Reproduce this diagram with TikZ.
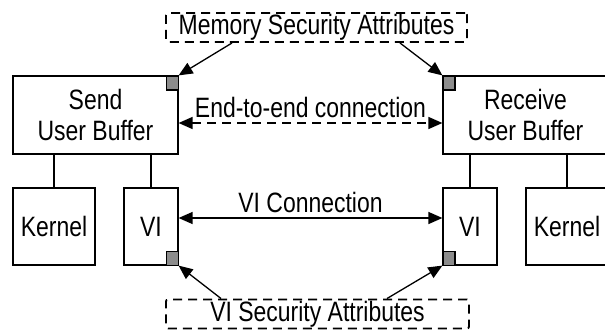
\documentclass[tikz,border=0pt]{standalone}
\usepackage{fontspec}
\setmainfont{Liberation Sans}[FakeStretch=0.82]
\usetikzlibrary{arrows.meta,positioning}

\begin{document}
\begin{tikzpicture}[x=1pt,y=-1pt,on grid,
    font=\fontsize{28}{31}\selectfont,
    box/.style={draw,line width=1.2pt,inner sep=0pt,align=center},
    tag/.style={draw,line width=1.1pt,fill=black!45,minimum width=12pt,minimum height=14pt,inner sep=0pt},
    attr/.style={draw,line width=1.9pt,dash pattern=on 9pt off 6pt,rounded corners=2pt,minimum height=29pt,inner sep=0pt},
    tip/.style={-{Triangle[length=14pt,width=12pt]},line width=1.3pt},
    tips/.style={{Triangle[length=14pt,width=12pt]}-{Triangle[length=14pt,width=12pt]},line width=1.3pt}]
  \useasboundingbox (0,0) rectangle (605,332);
  \clip (0,0) rectangle (605,332);
  % user buffers
  \node[box,minimum width=165pt,minimum height=78pt] (buf_s) at (95.5,115) {Send\\User Buffer};
  \node[box,minimum width=165pt,minimum height=78pt] (buf_r) [right=430pt of buf_s] {Receive\\User Buffer};
  % kernel and VI boxes
  \node[box,minimum width=82pt,minimum height=77pt] (kern_s) at (54,226.5) {Kernel};
  \node[box,minimum width=54pt,minimum height=77pt] (vi_s) [right=97pt of kern_s] {VI};
  \node[box,minimum width=54pt,minimum height=77pt] (vi_r) [right=319pt of vi_s] {VI};
  \node[box,minimum width=82pt,minimum height=77pt] (kern_r) [right=97pt of vi_r] {Kernel};
  \foreach \n/\b in {kern_s/buf_s,vi_s/buf_s,vi_r/buf_r,kern_r/buf_r}
    \draw[line width=1.2pt] (\n.north) -- (\n.north |- \b.south);
  % security tags
  \node[tag,anchor=north east] (tag_bs) at (buf_s.north east) {};
  \node[tag,anchor=north west] (tag_br) at (buf_r.north west) {};
  \node[tag,anchor=south east] (tag_vs) at (vi_s.south east) {};
  \node[tag,anchor=south west] (tag_vr) at (vi_r.south west) {};
  % attributes
  \node[attr,minimum width=301pt] (mem) at (316.5,27.5) {Memory Security Attributes};
  \node[attr,minimum width=303pt] (via) at (317.5,314) {VI Security Attributes};
  \draw[tip] ([xshift=67pt]mem.south west) -- (tag_bs.north east);
  \draw[tip] ([xshift=-68pt]mem.south east) -- (tag_br.north west);
  \draw[tip] ([xshift=56pt]via.north west) -- (tag_vs.south east);
  \draw[tip] ([xshift=-83pt]via.north east) -- (tag_vr.south west);
  % connections
  \draw[tips,line width=1.5pt,dash pattern=on 9pt off 6pt] ([yshift=-8pt]buf_s.east) -- ([yshift=-8pt]buf_r.west)
    node[midway,above=1pt] {End-to-end connection};
  \draw[tips] ([yshift=8.5pt]vi_s.east) -- ([yshift=8.5pt]vi_r.west)
    node[midway,above=1pt] {VI Connection};
\end{tikzpicture}
\end{document}
